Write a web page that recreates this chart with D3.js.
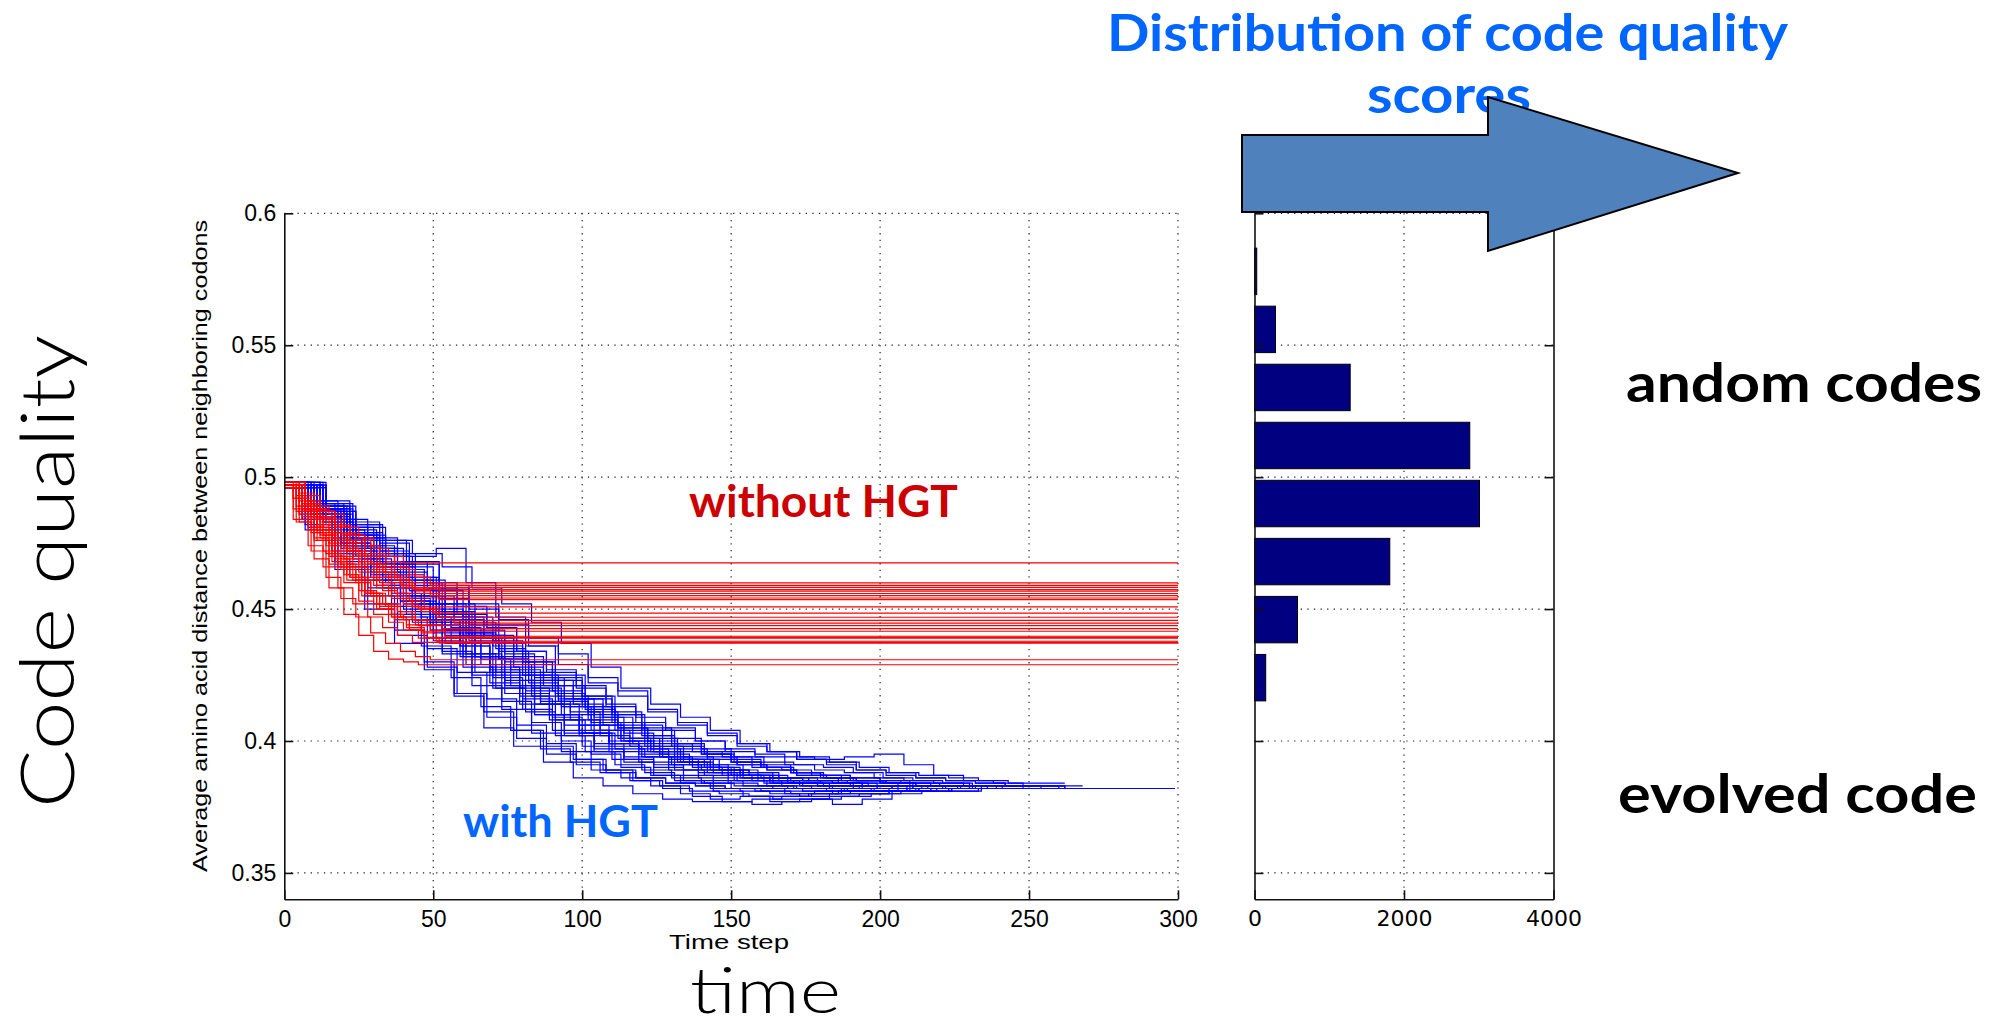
<!DOCTYPE html>
<html><head><meta charset="utf-8">
<script src="https://cdn.jsdelivr.net/npm/d3@7"></script>
<style>body{margin:0;background:#fff}svg{display:block}</style>
</head><body>
<svg id="c" width="2004" height="1028"></svg>
<script>
// ---------- data ----------
const yTicks = [0.35, 0.4, 0.45, 0.5, 0.55, 0.6];
const xTicks = [0, 50, 100, 150, 200, 250, 300];
const histTicks = [0, 2000, 4000];
const histCenters = [0.578, 0.556, 0.534, 0.512, 0.490, 0.468, 0.446, 0.424];
const histCounts = [30, 280, 1280, 2880, 3010, 1810, 575, 150];

// red runs (without HGT): values about every 5 time steps, last value held to t=300
const redRuns = [
 [.498,.494,.489,.486,.481,.477,.473,.470,.4675],
 [.497,.491,.487,.482,.478,.474,.470,.466,.463,.4599],
 [.498,.493,.488,.484,.479,.476,.471,.468,.465,.462,.4590],
 [.497,.490,.485,.479,.474,.470,.466,.462,.4582],
 [.496,.492,.486,.480,.476,.471,.467,.464,.461,.4574],
 [.497,.493,.487,.481,.475,.470,.467,.463,.460,.458,.4568],
 [.498,.491,.484,.479,.473,.468,.464,.460,.4559],
 [.497,.492,.488,.483,.478,.472,.467,.462,.459,.457,.4551],
 [.496,.489,.482,.477,.472,.467,.462,.458,.4542],
 [.497,.490,.485,.481,.476,.470,.465,.461,.458,.456,.4536],
 [.498,.492,.485,.478,.472,.466,.461,.457,.454,.4508],
 [.497,.489,.481,.475,.469,.464,.459,.455,.452,.450,.4485],
 [.496,.488,.480,.474,.467,.462,.458,.454,.451,.449,.4469],
 [.497,.487,.479,.471,.465,.460,.455,.452,.449,.4457],
 [.498,.490,.483,.476,.470,.465,.460,.456,.453,.450,.447,.4447],
 [.497,.486,.477,.470,.463,.457,.452,.448,.446,.4437],
 [.496,.488,.480,.472,.466,.461,.456,.452,.449,.446,.444,.4426],
 [.497,.485,.476,.468,.461,.455,.450,.447,.444,.4416],
 [.497,.489,.481,.474,.467,.461,.456,.451,.447,.444,.442,.4397],
 [.498,.487,.478,.470,.462,.456,.451,.446,.443,.4393],
 [.496,.486,.476,.467,.460,.453,.448,.445,.442,.4390],
 [.497,.488,.479,.470,.463,.457,.452,.447,.443,.441,.4378],
 [.497,.484,.474,.466,.458,.452,.447,.443,.440,.4374],
 [.498,.487,.477,.469,.462,.456,.450,.446,.442,.439,.4371],
 [.496,.483,.472,.462,.454,.447,.441,.437,.434,.432,.4308],
 [.497,.483,.469,.458,.448,.440,.434,.431,.430,.4289]
];
const redOffsets = [0,2,-1,1,-2,2,0,-1,1,2,-2,0,1,-1,2,0,-2,1,-1,2,0,1,-2,2,-1,0];

// blue runs (with HGT): values about every 10 time steps; blueEnds = final time step
const blueRuns = [
 [.497,.486,.474,.463,.452,.441,.432,.424,.416,.409,.403,.398,.394,.391,.389,.387,.386,.385,.384,.383,.383,.382,.382,.382,.382,.382],
 [.498,.490,.482,.476,.471,.466,.458,.452,.445,.437,.428,.420,.414,.409,.404,.399,.396,.394,.392,.390,.388,.387,.386,.385,.384,.384],
 [.496,.481,.466,.452,.440,.428,.418,.409,.401,.395,.391,.388,.386,.384,.383,.382,.381,.380,.381,.382,.382],
 [.497,.487,.478,.467,.459,.449,.440,.430,.421,.413,.406,.400,.396,.392,.389,.386,.384,.383,.382,.383,.382,.382,.381,.382],
 [.497,.489,.480,.476,.470,.473,.460,.447,.436,.425,.417,.410,.404,.399,.395,.392,.390,.388,.386,.385,.384,.383,.383,.382,.382],
 [.496,.482,.468,.455,.442,.430,.417,.405,.398,.392,.386,.383,.380,.378,.377,.377,.378,.379,.380,.381,.382,.382],
 [.497,.485,.476,.468,.457,.447,.438,.431,.423,.416,.410,.405,.400,.396,.393,.391,.389,.387,.386,.385,.384,.383,.383,.382,.382,.382],
 [.498,.488,.475,.462,.451,.444,.436,.426,.417,.410,.404,.399,.395,.391,.388,.386,.385,.384,.383,.383,.382,.382,.382,.382,.383],
 [.497,.484,.470,.460,.449,.437,.426,.418,.410,.403,.397,.393,.390,.387,.385,.383,.382,.381,.380,.380,.381,.381,.382,.382],
 [.497,.487,.477,.466,.456,.446,.437,.429,.421,.414,.408,.402,.398,.394,.391,.389,.387,.386,.385,.384,.384,.383,.383,.383,.382,.382,.382,.382,.382,.382,.382],
 [.496,.486,.479,.471,.462,.452,.445,.435,.426,.418,.413,.407,.402,.398,.396,.394,.392,.391,.390,.388,.386,.385,.384,.383,.382,.382],
 [.497,.483,.470,.458,.446,.434,.425,.415,.407,.400,.395,.390,.387,.384,.382,.381,.380,.379,.379,.380,.381,.381,.382],
 [.498,.491,.484,.477,.468,.460,.451,.443,.434,.426,.420,.414,.409,.404,.400,.397,.395,.394,.393,.394,.395,.391,.387,.385,.384,.383,.383],
 [.497,.486,.474,.461,.450,.438,.428,.420,.412,.404,.398,.393,.389,.386,.384,.382,.381,.380,.380,.381,.381,.382,.382],
 [.496,.488,.478,.470,.462,.454,.444,.434,.425,.417,.411,.405,.401,.397,.394,.391,.389,.387,.386,.385,.384,.383,.382,.382,.382],
 [.497,.480,.465,.450,.437,.427,.418,.411,.404,.398,.393,.389,.385,.382,.379,.377,.376,.377,.378,.379,.380,.381,.382],
 [.498,.489,.481,.471,.461,.452,.442,.433,.424,.416,.409,.403,.398,.394,.391,.388,.386,.385,.384,.383,.382,.382,.382,.383,.383,.382],
 [.497,.485,.473,.463,.454,.445,.436,.427,.418,.410,.402,.396,.392,.389,.386,.384,.383,.382,.382,.381,.381,.382,.382,.382],
 [.497,.487,.476,.465,.455,.446,.441,.437,.430,.421,.412,.404,.398,.393,.390,.387,.385,.384,.384,.383,.383,.382,.382,.382,.382,.382,.382,.382],
 [.496,.484,.472,.461,.448,.436,.424,.413,.404,.397,.392,.388,.385,.383,.381,.380,.379,.379,.380,.381,.381,.382],
 [.497,.488,.479,.470,.460,.449,.439,.429,.420,.413,.407,.401,.397,.393,.390,.387,.385,.384,.383,.382,.382,.382,.381,.382,.382],
 [.498,.490,.481,.473,.466,.457,.447,.438,.430,.423,.416,.410,.404,.399,.395,.392,.390,.388,.387,.386,.385,.384,.384,.383,.383,.383,.382,.382,.382],
 [.497,.485,.471,.458,.447,.435,.426,.416,.406,.399,.393,.389,.386,.384,.383,.382,.382,.381,.381,.381,.382,.382],
 [.497,.486,.477,.467,.457,.448,.439,.431,.422,.415,.408,.401,.396,.392,.388,.385,.383,.382,.381,.381,.381,.382,.382,.382,.382],
 [.496,.487,.477,.466,.455,.442,.432,.423,.414,.406,.399,.394,.391,.389,.388,.387,.386,.385,.384,.383,.383,.382,.382,.382,.382,.382],
 [.497,.488,.480,.472,.463,.455,.447,.440,.432,.423,.414,.406,.399,.394,.390,.387,.385,.383,.382,.381,.381,.381,.382,.382,.382],
 [.497,.484,.471,.459,.448,.439,.429,.420,.411,.402,.396,.391,.388,.385,.384,.383,.383,.382,.382,.382,.382],
 [.498,.487,.475,.464,.453,.442,.432,.422,.414,.408,.403,.399,.396,.393,.391,.389,.387,.386,.385,.384,.383,.382,.382,.382,.382,.382,.382],
 [.497,.486,.473,.462,.452,.442,.433,.425,.417,.410,.404,.400,.396,.392,.389,.386,.384,.383,.382,.382,.381,.382],
 [.497,.489,.478,.467,.458,.448,.440,.432,.425,.419,.413,.407,.402,.398,.395,.392,.390,.388,.386,.385,.384,.383,.383,.382,.382,.382],
 [.497,.484,.476,.469,.455,.447,.443,.431,.427,.415,.411,.404,.401,.395,.393,.389,.388,.385,.386,.384,.383,.382,.383,.382],
 [.498,.489,.483,.472,.468,.458,.452,.446,.439,.433,.424,.419,.411,.406,.403,.398,.396,.393,.392,.389,.388,.386,.385,.384,.383,.383,.382],
 [.496,.482,.474,.461,.452,.440,.432,.421,.410,.402,.396,.392,.387,.385,.381,.379,.378,.378,.376,.378,.380,.381,.382],
 [.497,.487,.481,.473,.464,.458,.448,.443,.434,.427,.421,.413,.407,.405,.400,.396,.394,.391,.389,.388,.386,.385,.384,.383,.383,.382],
 [.497,.485,.472,.466,.453,.445,.433,.426,.419,.408,.403,.397,.394,.389,.387,.385,.384,.384,.383,.382,.382,.383,.382],
 [.498,.490,.479,.474,.465,.452,.446,.439,.428,.421,.416,.409,.406,.399,.396,.394,.390,.389,.387,.385,.385,.384,.383,.382,.382],
 [.497,.483,.469,.459,.445,.433,.421,.412,.403,.396,.389,.386,.383,.380,.378,.379,.377,.378,.380,.380,.381,.382],
 [.496,.488,.476,.468,.461,.450,.441,.436,.429,.424,.417,.411,.405,.401,.397,.393,.391,.388,.387,.386,.384,.384,.383,.382,.382,.382,.382],
 [.497,.486,.474,.465,.453,.446,.437,.428,.420,.414,.406,.400,.397,.392,.390,.387,.386,.384,.383,.383,.382,.381,.382,.382],
 [.498,.491,.482,.475,.467,.459,.450,.444,.436,.429,.422,.417,.412,.407,.402,.399,.396,.393,.391,.389,.387,.386,.385,.384,.383,.383,.382,.382]
];
const blueEnds = [256,262,205,236,248,218,258,245,238,299,252,226,268,225,246,228,258,235,272,212,
                  247,288,214,244,255,246,204,265,216,254,240,270,230,259,231,249,219,263,237,276];
const blueOffsets = [0,3,-2,4,1,-3,2,-1,4,-4,1,3,-2,0,2,-3,4,-1,1,-4,3,0,-2,2,4,-3,1,-1,3,0,-4,2,4,-2,1,-3,3,0,-1,2];

// ---------- drawing ----------
const svg = d3.select('#c');
const tickFont = '"Liberation Sans", Arial, sans-serif';
const geoBold = 'Lato, "Open Sans", sans-serif';

const x = d3.scaleLinear().domain([0, 300]).range([284.3, 1178]);
const y = d3.scaleLinear().domain([0.34, 0.6]).range([899.3, 213.3]);
const hx = d3.scaleLinear().domain([0, 4000]).range([1254.5, 1553.5]);

const dot = '1.3,5.3';
const g = svg.append('g');
g.selectAll('.gx').data(xTicks.slice(1)).join('line')
  .attr('x1', d => x(d)).attr('x2', d => x(d)).attr('y1', y(0.6)).attr('y2', y(0.34))
  .attr('stroke', '#222').attr('stroke-width', 1.2).attr('stroke-dasharray', dot);
g.selectAll('.gy').data(yTicks).join('line')
  .attr('x1', x(0)).attr('x2', x(300)).attr('y1', d => y(d)).attr('y2', d => y(d))
  .attr('stroke', '#222').attr('stroke-width', 1.2).attr('stroke-dasharray', dot);

const line = d3.line().x(d => x(d[0])).y(d => y(d[1])).curve(d3.curveStepAfter);

const bluePts = blueRuns.map((r, k) => {
  const end = blueEnds[k];
  const pts = r.map((v, i) => [i === 0 ? 0 : Math.min(i * 10 + blueOffsets[k], end), v]);
  pts.push([end, r[r.length - 1]]);
  return pts;
});
svg.append('g').selectAll('path').data(bluePts).join('path')
  .attr('d', line).attr('fill', 'none').attr('stroke', '#0000ff').attr('stroke-width', 1.2);

const redPts = redRuns.map((r, k) => {
  const pts = r.map((v, i) => [i === 0 ? 0 : i * 5 + redOffsets[k], v]);
  pts.push([300, r[r.length - 1]]);
  return pts;
});
svg.append('g').selectAll('path').data(redPts).join('path')
  .attr('d', line).attr('fill', 'none').attr('stroke', '#ff0000').attr('stroke-width', 1.2);

// main axes
const axL = svg.append('g').attr('transform', `translate(${x(0)},0)`)
  .call(d3.axisLeft(y).tickValues(yTicks).tickSize(-9).tickSizeOuter(0).tickPadding(8).tickFormat(d => String(d)));
const axB = svg.append('g').attr('transform', `translate(0,${y(0.34)})`)
  .call(d3.axisBottom(x).tickValues(xTicks).tickSize(-9).tickSizeOuter(0).tickPadding(11));
[axL, axB].forEach(a => {
  a.selectAll('path,line').attr('stroke', '#111').attr('stroke-width', 1.6);
  a.selectAll('text').attr('font-family', tickFont).attr('font-size', 23).attr('fill', '#000');
});

svg.append('text').attr('x', 729).attr('y', 949).attr('text-anchor', 'middle')
  .attr('font-family', tickFont).attr('font-size', 21)
  .attr('textLength', 120).attr('lengthAdjust', 'spacingAndGlyphs').text('Time step');
svg.append('text').attr('transform', 'translate(207,546) rotate(-90)').attr('text-anchor', 'middle')
  .attr('font-family', tickFont).attr('font-size', 21)
  .attr('textLength', 652).attr('lengthAdjust', 'spacingAndGlyphs')
  .text('Average amino acid distance between neighboring codons');

// histogram grid
const hg = svg.append('g');
hg.selectAll('line.h').data(yTicks).join('line')
  .attr('x1', hx(0)).attr('x2', hx(4000)).attr('y1', d => y(d)).attr('y2', d => y(d))
  .attr('stroke', '#222').attr('stroke-width', 1.2).attr('stroke-dasharray', dot);
hg.append('line').attr('x1', hx(2000)).attr('x2', hx(2000)).attr('y1', y(0.6)).attr('y2', y(0.34))
  .attr('stroke', '#222').attr('stroke-width', 1.2).attr('stroke-dasharray', dot);

const halfW = 0.0088;
svg.append('g').selectAll('rect').data(histCenters.map((c, i) => ({ c, v: histCounts[i] }))).join('rect')
  .attr('x', hx(0)).attr('y', d => y(d.c + halfW))
  .attr('width', d => hx(d.v) - hx(0)).attr('height', d => y(d.c - halfW) - y(d.c + halfW))
  .attr('fill', '#000080').attr('stroke', '#000').attr('stroke-width', 1);

const hL = svg.append('g').attr('transform', `translate(${hx(0)},0)`)
  .call(d3.axisLeft(y).tickValues(yTicks).tickSize(-9).tickSizeOuter(0).tickFormat(''));
const hR = svg.append('g').attr('transform', `translate(${hx(4000)},0)`)
  .call(d3.axisRight(y).tickValues(yTicks).tickSize(-9).tickSizeOuter(0).tickFormat(''));
const hB = svg.append('g').attr('transform', `translate(0,${y(0.34)})`)
  .call(d3.axisBottom(hx).tickValues(histTicks).tickSize(-9).tickSizeOuter(0).tickPadding(11).tickFormat(d3.format('d')));
[hL, hR, hB].forEach(a => {
  a.selectAll('path,line').attr('stroke', '#111').attr('stroke-width', 1.6);
  a.selectAll('text').attr('font-family', '"DejaVu Sans", sans-serif').attr('font-size', 22).attr('fill', '#000');
});

// annotations
function label(txt, xp, yp, len, size, weight, color, fam) {
  return svg.append('text').attr('x', xp).attr('y', yp)
    .attr('font-family', fam).attr('font-size', size).attr('font-weight', weight)
    .attr('fill', color).attr('textLength', len).attr('lengthAdjust', 'spacingAndGlyphs').text(txt);
}
label('Distribution of code quality', 1107, 51, 681, 52, 700, '#0066ff', geoBold);
label('scores', 1367, 113, 164, 52, 700, '#0066ff', geoBold);
label('without HGT', 689, 517, 269, 44, 700, '#cc0000', geoBold);
label('with HGT', 463, 837, 195, 44, 700, '#0066ff', geoBold);
label('andom codes', 1626, 402, 356, 54, 700, '#000', geoBold);
label('evolved code', 1618, 813, 359, 54, 700, '#000', geoBold);
label('time', 690, 1013, 151, 64, 300, '#000', 'Lato, "Open Sans", sans-serif');
svg.append('text').attr('transform', 'translate(74,571.5) rotate(-90)').attr('text-anchor', 'middle')
  .attr('font-family', 'Lato, "Open Sans", sans-serif').attr('font-size', 74).attr('font-weight', 300)
  .attr('textLength', 473).attr('lengthAdjust', 'spacingAndGlyphs').text('Code quality');

// block arrow (drawn on top)
const arrowPts = [[1242,135],[1488,135],[1488,97],[1738,173],[1488,251],[1488,212],[1242,212]];
svg.append('polygon').attr('points', arrowPts.map(p => p.join(',')).join(' '))
  .attr('fill', '#4f81bd').attr('stroke', '#000').attr('stroke-width', 2).attr('stroke-linejoin', 'miter');
</script>
</body></html>
